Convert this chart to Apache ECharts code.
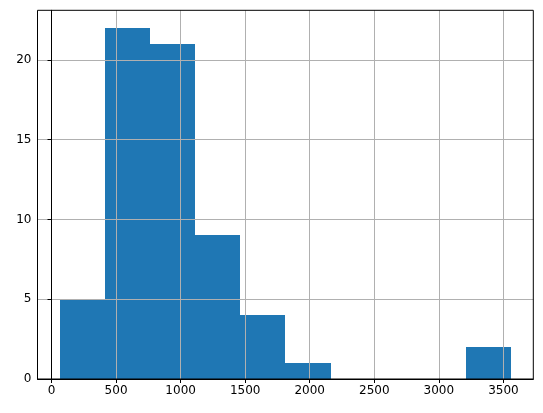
<!DOCTYPE html>
<html><head><meta charset="utf-8">
<script src="https://cdn.jsdelivr.net/npm/echarts@6/dist/echarts.min.js"></script>
<style>html,body{margin:0;padding:0;background:#fff}#c{width:543px;height:413px}</style>
</head><body><div id="c"></div>
<script>
var binEdges = [66, 415, 764, 1113, 1462, 1812, 2161, 2510, 2859, 3208, 3557];
var counts = [5, 22, 21, 9, 4, 1, 0, 0, 0, 2];
var xTicks = [0, 500, 1000, 1500, 2000, 2500, 3000, 3500];
var yTicks = [0, 5, 10, 15, 20];

var span = binEdges[binEdges.length-1] - binEdges[0];
var xMin = binEdges[0] - span*0.05, xMax = binEdges[binEdges.length-1] + span*0.05;
var yMax = Math.max.apply(null, counts) * 1.05;

var data = counts.map(function(c,i){ return [binEdges[i], binEdges[i+1], c]; });

var chart = echarts.init(document.getElementById('c'), null, {renderer:'canvas'});
var font = {fontFamily:'DejaVu Sans', fontSize:12, color:'#000'};
function plain(v){ return String(v); }
chart.setOption({
  animation:false,
  backgroundColor:'#fff',
  grid:{left:37.5, right:9.7, top:10.3, bottom:34, show:true, z:10, borderColor:'#000', borderWidth:1, backgroundColor:'transparent'},
  xAxis:{type:'value', min:xMin, max:xMax, splitNumber:8, z:5,
    axisLine:{show:true, lineStyle:{color:'#000', width:1}},
    axisTick:{show:true, length:4, customValues:xTicks, lineStyle:{color:'#000'}},
    axisLabel:Object.assign({margin:6, customValues:xTicks, formatter:plain}, font),
    splitLine:{show:true, lineStyle:{color:'#b0b0b0', width:1}}
  },
  yAxis:{type:'value', min:0, max:yMax, interval:5, z:5,
    axisLine:{show:true, lineStyle:{color:'#000', width:1}},
    axisTick:{show:true, length:4, customValues:yTicks, lineStyle:{color:'#000'}},
    axisLabel:Object.assign({margin:6, customValues:yTicks, formatter:plain}, font),
    splitLine:{show:true, lineStyle:{color:'#b0b0b0', width:1}}
  },
  series:[{
    type:'custom', z:1,
    encode:{x:[0,1], y:2},
    data:data,
    renderItem:function(params, api){
      var p0 = api.coord([api.value(0), api.value(2)]);
      var p1 = api.coord([api.value(1), 0]);
      var x0 = Math.round(p0[0]), x1 = Math.round(p1[0]);
      var y0 = Math.round(p0[1]), y1 = Math.round(p1[1]);
      return {type:'rect', shape:{x:x0, y:y0, width:x1-x0, height:y1-y0},
        style:{fill:'#1f77b4'}};
    }
  }]
});
</script></body></html>
